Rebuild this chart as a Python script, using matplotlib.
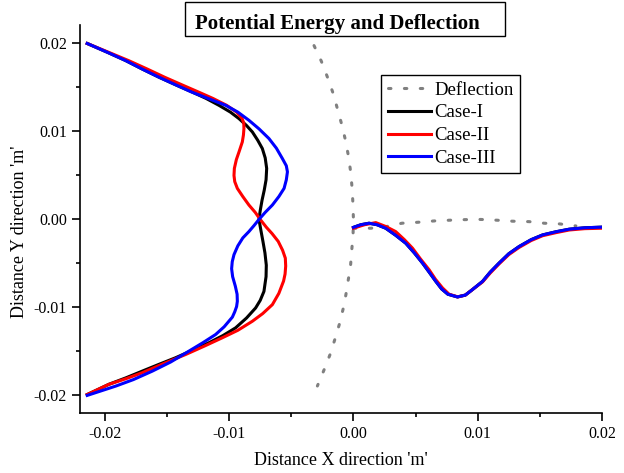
"""Potential energy and deflection plot."""

import matplotlib

matplotlib.use("Agg")
import matplotlib.pyplot as plt
from matplotlib.patches import Rectangle
from matplotlib.ticker import FixedLocator, FormatStrFormatter

# ---- data (metres) ----
# left-hand arms, listed top to bottom
case1_left_x = [-0.02142, -0.0198, -0.01833, -0.0170, -0.01565, -0.0143, -0.01296, -0.01185,
                -0.01082, -0.0099, -0.00921, -0.00862, -0.00813, -0.0077, -0.00733, -0.0071,
                -0.00698, -0.00703, -0.00718, -0.00735, -0.0075, -0.0076, -0.00745, -0.00728,
                -0.00712, -0.00701, -0.00703, -0.0072, -0.0075, -0.00787, -0.0086, -0.00948,
                -0.0105, -0.01163, -0.0130, -0.01431, -0.0157, -0.01699, -0.0183, -0.01968,
                -0.02142]
case1_left_y = [0.0200, 0.0190, 0.01806, 0.0171, 0.01617, 0.0153, 0.01447, 0.01375,
                0.01297, 0.0122, 0.01146, 0.0107, 0.00994, 0.0090, 0.00806, 0.0070,
                0.0058, 0.0045, 0.0033, 0.0022, 0.0010, 0.0000, -0.0012, -0.0025,
                -0.0038, -0.0052, -0.0065, -0.00818, -0.0092, -0.01006, -0.0112, -0.01232,
                -0.0132, -0.01402, -0.0149, -0.01572, -0.0165, -0.01724, -0.0180, -0.01874,
                -0.0199]

case2_left_x = [-0.02142, -0.0197, -0.0181, -0.0166, -0.0152, -0.0138, -0.01245, -0.0113,
                -0.0102, -0.0094, -0.00895, -0.00882, -0.00881, -0.00885, -0.00894, -0.0092,
                -0.00942, -0.00958, -0.00961, -0.00955, -0.00934, -0.0089, -0.00841, -0.0079,
                -0.0075, -0.0070, -0.00655, -0.00605, -0.0057, -0.00548, -0.00545, -0.0055,
                -0.00562, -0.0060, -0.00652, -0.0073, -0.00813, -0.0093, -0.01055, -0.0120,
                -0.0135, -0.0153, -0.01699, -0.0183, -0.01968, -0.02142]
case2_left_y = [0.0200, 0.0190, 0.01806, 0.0171, 0.01617, 0.0153, 0.01447, 0.01375,
                0.01297, 0.0122, 0.01146, 0.0109, 0.01033, 0.0096, 0.00881, 0.0077,
                0.0068, 0.0058, 0.0050, 0.0043, 0.00353, 0.0026, 0.00164, 0.0008,
                0.0000, -0.0009, -0.0016, -0.0025, -0.0035, -0.0044, -0.0053, -0.0062,
                -0.0070, -0.0084, -0.00968, -0.0107, -0.01157, -0.0126, -0.01345, -0.0144,
                -0.01535, -0.0164, -0.01742, -0.0181, -0.01874, -0.0199]

case3_left_x = [-0.02142, -0.0198, -0.01833, -0.0170, -0.01565, -0.0143, -0.0130, -0.0116,
                -0.01028, -0.0093, -0.00841, -0.0076, -0.0068, -0.0062, -0.00572, -0.0054,
                -0.00531, -0.0054, -0.00558, -0.0060, -0.00652, -0.0071, -0.0076, -0.0080,
                -0.00841, -0.0089, -0.0093, -0.00961, -0.00975, -0.0098, -0.00972, -0.0095,
                -0.00936, -0.00934, -0.0094, -0.00955, -0.00974, -0.0104, -0.01109, -0.0121,
                -0.01324, -0.0147, -0.01618, -0.0177, -0.01912, -0.02142]
case3_left_y = [0.0200, 0.0190, 0.01806, 0.0171, 0.01617, 0.0153, 0.01447, 0.0137,
                0.01297, 0.0122, 0.01127, 0.0103, 0.0092, 0.0081, 0.00693, 0.0061,
                0.00541, 0.0045, 0.00353, 0.0026, 0.00164, 0.0008, 0.0000, -0.0007,
                -0.00138, -0.0021, -0.0030, -0.0040, -0.0048, -0.0056, -0.0065, -0.0076,
                -0.0085, -0.0093, -0.0099, -0.0105, -0.0111, -0.0122, -0.01308, -0.0140,
                -0.01497, -0.0162, -0.01724, -0.0182, -0.01894, -0.0200]

# right-hand trough, left to right
right_x = [0.0000, 0.0006, 0.00126, 0.0019, 0.0026, 0.0034, 0.00421, 0.0049, 0.00556,
           0.0061, 0.00663, 0.0071, 0.0076, 0.00837, 0.0090, 0.00955, 0.01039, 0.0110,
           0.01172, 0.0125, 0.01333, 0.0143, 0.01522, 0.0163, 0.01736, 0.0186, 0.0199]
case1_right_y = [-0.0009, -0.0006, -0.00043, -0.0006, -0.0010, -0.0018, -0.0027, -0.0038,
                 -0.00496, -0.0060, -0.00704, -0.0079, -0.0085, -0.00881, -0.0086, -0.0080,
                 -0.00704, -0.0060, -0.00496, -0.0039, -0.00308, -0.0023, -0.00176, -0.0014,
                 -0.00111, -0.00095, -0.00088]
case3_right_y = case1_right_y

case2_right_x = [0.0000, 0.0009, 0.0018, 0.0026, 0.0034, 0.0041, 0.00475, 0.0054, 0.00609,
                 0.0066, 0.00717, 0.0077, 0.0084, 0.0090, 0.00955, 0.01039, 0.0110, 0.01172,
                 0.0125, 0.01333, 0.0143, 0.01522, 0.0163, 0.01736, 0.0186, 0.0199]
case2_right_y = [-0.0010, -0.0006, -0.00036, -0.0008, -0.00138, -0.0023, -0.00326, -0.0045,
                 -0.00572, -0.0068, -0.00779, -0.0085, -0.0088, -0.0086, -0.0080, -0.0071,
                 -0.0061, -0.00505, -0.0040, -0.00318, -0.0024, -0.00185, -0.0015, -0.0012,
                 -0.00105, -0.0010]

# deflection: vertical branch (top to bottom) and horizontal branch
defl_v_x = [-0.00317, -0.00258, -0.00209, -0.00164, -0.00129, -0.00094, -0.00064, -0.00040,
            -0.00022, -0.00011, -0.00004, 0.0, -0.00003, -0.00014, -0.00024, -0.00046,
            -0.0006, -0.00078, -0.0011, -0.00148, -0.00188, -0.00237, -0.0029]
defl_v_y = [0.01976, 0.01798, 0.01617, 0.01436, 0.01259, 0.01078, 0.0090, 0.00719,
            0.00538, 0.0036, 0.00179, 0.0, -0.00176, -0.00357, -0.00541, -0.00723,
            -0.0085, -0.00988, -0.01176, -0.01357, -0.01535, -0.01712, -0.01893]
defl_h_x = [0.0000, 0.0014, 0.0026, 0.0039, 0.0052, 0.0065, 0.0077, 0.0090, 0.01025,
            0.0116, 0.0128, 0.01414, 0.01535, 0.01655, 0.0179]
defl_h_y = [-0.0010, -0.0010, -0.00082, -0.00043, -0.00032, -0.00017, -0.00009, -0.00002,
            0.0, -0.00009, -0.0002, -0.00025, -0.00043, -0.0005, -0.00074]

x_ticks = [-0.02, -0.01, 0.0, 0.01, 0.02]
y_ticks = [-0.02, -0.01, 0.0, 0.01, 0.02]
x_minor = [-0.015, -0.005, 0.005, 0.015]
y_minor = [-0.015, -0.005, 0.005, 0.015]

plt.rcParams["font.family"] = ["Liberation Serif", "DejaVu Serif"]
plt.rcParams["axes.unicode_minus"] = False

W, H = 624, 473
fig = plt.figure(figsize=(W / 100, H / 100), dpi=100)
ax = fig.add_axes([80 / W, 1 - 413 / H, 522 / W, 388 / H])

lw = 2.2
defl_style = dict(color="#808080", lw=lw, linestyle=(0, (0.8, 4.4)),
                  dash_capstyle="round", solid_capstyle="round")
ax.plot(defl_v_x, defl_v_y, label="Deflection", **defl_style)
ax.plot(defl_h_x, defl_h_y, **defl_style)

ax.plot(case1_left_x, case1_left_y, color="black", lw=lw, label="Case-I")
ax.plot(right_x, case1_right_y, color="black", lw=lw)
ax.plot(case2_left_x, case2_left_y, color="red", lw=lw, label="Case-II")
ax.plot(case2_right_x, case2_right_y, color="red", lw=lw)
ax.plot(case3_left_x, case3_left_y, color="blue", lw=lw, label="Case-III")
ax.plot(right_x, case3_right_y, color="blue", lw=lw)

ax.set_xlim(-0.022, 0.02)
ax.set_ylim(-0.022, 0.0221)

for side in ("top", "right"):
    ax.spines[side].set_visible(False)
for side in ("left", "bottom"):
    ax.spines[side].set_linewidth(1.2)

ax.xaxis.set_major_locator(FixedLocator(x_ticks))
ax.yaxis.set_major_locator(FixedLocator(y_ticks))
ax.xaxis.set_minor_locator(FixedLocator(x_minor))
ax.yaxis.set_minor_locator(FixedLocator(y_minor))
ax.xaxis.set_major_formatter(FormatStrFormatter("%.2f"))
ax.yaxis.set_major_formatter(FormatStrFormatter("%.2f"))
ax.tick_params(which="major", direction="out", length=5.5, width=1.2, pad=4,
               labelsize=11.5, colors="black")
ax.tick_params(which="minor", direction="out", length=3, width=1.2)

ax.set_xlabel("Distance X direction 'm'", fontsize=13)
ax.set_ylabel("Distance Y direction 'm'", fontsize=13)
ax.xaxis.set_label_coords((341 - 80) / 522, (413 - 452) / 388)
ax.yaxis.set_label_coords((28 - 80) / 522, (413 - 232) / 388)

# boxed title
fig.patches.append(Rectangle((185 / W, 1 - 36 / H), 320 / W, 34 / H,
                             transform=fig.transFigure, fill=False,
                             edgecolor="black", lw=1.0))
fig.text(195 / W, 1 - 28.5 / H, "Potential Energy and Deflection",
         fontsize=15, fontweight="bold", ha="left", va="baseline")

leg = ax.legend(loc="upper left", bbox_to_anchor=(381 / W, 1 - 75 / H),
                bbox_transform=fig.transFigure, borderaxespad=0, fontsize=13.5,
                frameon=True, fancybox=False, edgecolor="black", framealpha=1,
                handlelength=2.3, handletextpad=0.2, labelspacing=0.3,
                borderpad=0.35)
leg.get_frame().set_linewidth(1.0)

fig.savefig("out.png", dpi=100)
